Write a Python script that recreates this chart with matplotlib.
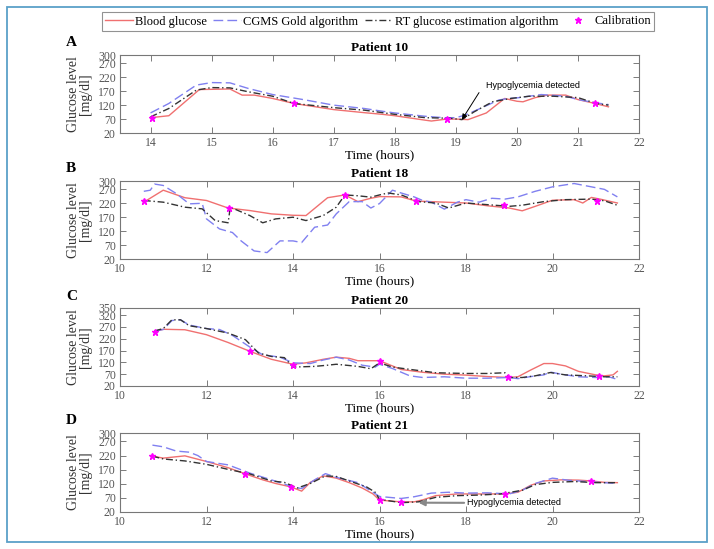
import matplotlib.pyplot as plt
from matplotlib.patches import Rectangle
from matplotlib.lines import Line2D

# Colours and fonts
RED = '#f07070'
BLUE = '#8080f0'
DARK = '#333333'
MAG = '#ff00ff'
SERIF = 'Liberation Serif'
SANS = 'Liberation Sans'

# ---------------- Patient 10 ----------------
p10_bg_t = [14.0, 14.3, 14.8, 15.3, 15.5, 15.7, 16.0, 16.35, 17.0, 17.5, 17.8, 18.0, 18.5, 18.6, 18.85, 19.0, 19.2, 19.5, 19.8, 20.0, 20.1, 20.3, 20.5, 20.8, 21.0, 21.28, 21.5]
p10_bg_v = [75, 82, 176, 178, 156, 156, 144, 126, 104, 93, 87, 82, 66, 63, 70, 70, 68, 92, 144, 134, 132, 147, 156, 156, 140, 126, 114]
p10_cg_t = [14.0, 14.3, 14.75, 15.0, 15.3, 15.6, 16.0, 16.5, 17.0, 17.5, 17.8, 18.0, 18.5, 18.8, 19.0, 19.15, 19.4, 19.7, 19.85, 20.0, 20.4, 20.8, 21.0, 21.3, 21.5]
p10_cg_v = [92, 126, 192, 201, 200, 180, 158, 140, 120, 108, 98, 92, 80, 75, 75, 84, 108, 138, 144, 146, 158, 152, 140, 128, 122]
p10_rt_t = [14.0, 14.3, 14.75, 15.0, 15.3, 15.6, 16.0, 16.35, 17.0, 17.5, 18.0, 18.5, 18.9, 19.1, 19.3, 19.6, 19.9, 20.2, 20.6, 21.0, 21.3, 21.5]
p10_rt_v = [78, 108, 174, 183, 182, 168, 152, 126, 111, 102, 87, 75, 73, 68, 96, 132, 144, 152, 152, 147, 126, 120]
p10_cal_t = [14.03, 16.35, 18.85, 21.28]
p10_cal_v = [75, 126, 70, 126]

# ---------------- Patient 18 ----------------
p18_bg_t = [10.55, 11.0, 11.5, 12.0, 12.5, 13.0, 13.5, 14.0, 14.3, 14.8, 15.2, 15.5, 15.8, 16.0, 16.5, 16.85, 17.5, 18.0, 18.5, 19.0, 19.3, 19.6, 20.0, 20.5, 20.7, 20.9, 21.1, 21.5]
p18_bg_v = [224, 267, 240, 230, 203, 194, 182, 177, 176, 240, 250, 226, 238, 244, 243, 228, 224, 221, 211, 203, 193, 209, 231, 233, 221, 241, 235, 221]
p18_cg_t = [10.55, 10.7, 10.8, 11.0, 11.3, 11.6, 11.9, 12.0, 12.3, 12.6, 12.8, 13.1, 13.4, 13.7, 14.0, 14.2, 14.5, 14.8, 15.0, 15.3, 15.6, 15.8, 16.0, 16.3, 16.5, 16.8, 17.0, 17.2, 17.5, 17.8, 18.0, 18.3, 18.6, 18.9, 19.2, 19.6, 20.0, 20.5, 20.8, 21.2, 21.5]
p18_cg_v = [263, 267, 289, 284, 255, 218, 220, 164, 128, 115, 85, 49, 43, 85, 85, 79, 134, 142, 182, 226, 226, 203, 219, 267, 257, 243, 230, 224, 199, 224, 233, 224, 238, 235, 243, 263, 279, 291, 282, 270, 243]
p18_rt_t = [10.55, 11.0, 11.5, 11.9, 12.2, 12.5, 12.55, 13.0, 13.3, 13.6, 14.0, 14.3, 14.7, 15.0, 15.2, 15.5, 15.8, 16.0, 16.2, 16.5, 16.9, 17.3, 17.6, 18.0, 18.5, 19.0, 19.3, 19.8, 20.3, 20.9, 21.2, 21.5]
p18_rt_v = [230, 224, 206, 200, 158, 150, 206, 176, 150, 164, 170, 158, 176, 206, 250, 247, 242, 250, 257, 250, 226, 221, 203, 221, 215, 209, 213, 226, 233, 235, 229, 213]
p18_cal_t = [10.55, 12.52, 15.2, 16.85, 18.87, 21.04]
p18_cal_v = [228, 203, 251, 229, 215, 229]

# ---------------- Patient 20 ----------------
p20_bg_t = [10.8, 11.0, 11.5, 12.0, 12.5, 13.0, 13.5, 14.0, 14.3, 14.7, 15.0, 15.3, 15.5, 15.8, 16.0, 16.5, 17.0, 17.5, 18.0, 18.5, 19.0, 19.2, 19.5, 19.8, 20.0, 20.3, 20.6, 21.0, 21.2, 21.4, 21.5]
p20_bg_v = [250, 260, 258, 237, 204, 167, 133, 112, 118, 133, 142, 137, 127, 127, 127, 90, 78, 70, 66, 60, 56, 59, 88, 115, 115, 105, 82, 67, 63, 67, 82]
p20_cg_t = [10.8, 11.0, 11.2, 11.4, 11.6, 12.0, 12.3, 12.6, 13.0, 13.3, 13.7, 14.0, 14.4, 14.7, 15.0, 15.3, 15.6, 15.9, 16.0, 16.3, 16.7, 17.0, 17.5, 18.0, 18.5, 19.0, 19.2, 19.5, 19.8, 19.95, 20.2, 20.6, 21.0, 21.3, 21.5]
p20_cg_v = [253, 259, 297, 300, 278, 263, 259, 234, 185, 152, 142, 118, 115, 130, 142, 130, 108, 100, 112, 94, 63, 56, 59, 53, 53, 56, 51, 60, 67, 79, 70, 59, 56, 59, 48]
p20_rt_t = [10.8, 11.0, 11.2, 11.4, 11.6, 12.0, 12.5, 12.9, 13.2, 13.5, 13.8, 14.0, 14.5, 14.8, 15.0, 15.5, 15.8, 16.0, 16.3, 16.8, 17.3, 18.0, 18.5, 18.9, 19.0, 19.3, 19.6, 19.95, 20.3, 20.8, 21.2, 21.5]
p20_rt_v = [253, 263, 300, 300, 275, 263, 244, 216, 160, 145, 140, 100, 103, 108, 112, 103, 93, 118, 100, 88, 76, 73, 73, 76, 56, 56, 63, 77, 67, 63, 59, 59]
p20_cal_t = [10.8, 13.0, 14.0, 16.0, 18.97, 21.08]
p20_cal_v = [250, 167, 108, 127, 57, 63]

# ---------------- Patient 21 ----------------
p21_bg_t = [10.75, 11.0, 11.5, 12.0, 12.5, 12.9, 13.3, 13.6, 13.95, 14.2, 14.4, 14.7, 15.0, 15.3, 15.6, 15.85, 16.0, 16.5, 16.8, 17.0, 17.3, 17.8, 18.5, 18.9, 19.2, 19.5, 19.8, 20.2, 20.6, 20.9, 21.2, 21.5]
p21_bg_v = [218, 211, 219, 199, 177, 155, 134, 121, 109, 94, 125, 148, 140, 124, 105, 84, 62, 56, 56, 63, 78, 84, 84, 84, 90, 115, 130, 134, 133, 130, 125, 124]
p21_cg_t = [10.75, 11.0, 11.3, 11.6, 11.8, 12.0, 12.5, 13.0, 13.5, 14.0, 14.2, 14.5, 14.75, 15.0, 15.5, 15.85, 16.0, 16.5, 16.8, 17.2, 17.6, 18.0, 18.5, 19.0, 19.3, 19.6, 20.0, 20.4, 20.8, 21.2, 21.5]
p21_cg_v = [257, 251, 236, 232, 220, 199, 187, 158, 134, 109, 103, 134, 156, 143, 124, 90, 75, 68, 74, 87, 90, 87, 88, 84, 97, 121, 140, 132, 128, 124, 121]
p21_rt_t = [10.75, 11.0, 11.5, 12.0, 12.5, 13.0, 13.5, 13.8, 14.1, 14.4, 14.75, 15.0, 15.3, 15.7, 15.9, 16.0, 16.5, 16.9, 17.3, 17.8, 18.3, 18.8, 19.3, 19.6, 20.0, 20.5, 21.0, 21.5]
p21_rt_v = [218, 208, 201, 189, 171, 155, 130, 125, 105, 121, 148, 146, 130, 109, 90, 65, 53, 56, 72, 78, 80, 84, 97, 117, 125, 128, 124, 124]
p21_cal_t = [10.75, 12.9, 13.95, 16.0, 16.5, 18.9, 20.9]
p21_cal_v = [218, 155, 109, 63, 56, 84, 130]

panels = [
    ('A', 'Patient 10', (13.5, 22), range(14, 23), (20, 300), [20, 70, 120, 170, 220, 270, 300],
     p10_bg_t, p10_bg_v, p10_cg_t, p10_cg_v, p10_rt_t, p10_rt_v, p10_cal_t, p10_cal_v),
    ('B', 'Patient 18', (10, 22), range(10, 23, 2), (20, 300), [20, 70, 120, 170, 220, 270, 300],
     p18_bg_t, p18_bg_v, p18_cg_t, p18_cg_v, p18_rt_t, p18_rt_v, p18_cal_t, p18_cal_v),
    ('C', 'Patient 20', (10, 22), range(10, 23, 2), (20, 350), [20, 70, 120, 170, 220, 270, 320, 350],
     p20_bg_t, p20_bg_v, p20_cg_t, p20_cg_v, p20_rt_t, p20_rt_v, p20_cal_t, p20_cal_v),
    ('D', 'Patient 21', (10, 22), range(10, 23, 2), (20, 300), [20, 70, 120, 170, 220, 270, 300],
     p21_bg_t, p21_bg_v, p21_cg_t, p21_cg_v, p21_rt_t, p21_rt_v, p21_cal_t, p21_cal_v),
]

fig = plt.figure(figsize=(7.14, 5.49), dpi=100)

# axes placement in pixels (top, bottom)
boxes = [(55, 133), (181, 259), (308, 386), (433, 512)]
W, H = 714.0, 549.0
left, right = 120, 639

axes = []
for (letter, title, xl, xt, yl, yt, bt, bv, ct, cv, rt, rv, kt, kv), (top, bot) in zip(panels, boxes):
    ax = fig.add_axes([left / W, 1 - bot / H, (right - left) / W, (bot - top) / H])
    ax.plot(bt, bv, color=RED, lw=1.0)
    ax.plot(ct, cv, color=BLUE, lw=1.0, dashes=(7, 3))
    ax.plot(rt, rv, color=DARK, lw=1.0, dashes=(5, 2, 1, 2))
    ax.plot(kt, kv, ls='none', marker='*', ms=4.5, color=MAG)
    ax.set_xlim(*xl)
    ax.set_ylim(*yl)
    ax.set_xticks(list(xt))
    ax.set_yticks(yt)
    ax.tick_params(direction='in', top=True, right=True, length=4, width=0.6,
                   labelsize=8.5, labelcolor='#555555', color='#666666', pad=3)
    for lab in ax.get_xticklabels() + ax.get_yticklabels():
        lab.set_family(SERIF)
    for s in ax.spines.values():
        s.set_color('#777777')
        s.set_linewidth(0.8)
    ax.set_title(title, fontsize=9.5, fontweight='bold', family=SERIF, pad=3)
    ax.set_xlabel('Time (hours)', fontsize=9.5, family=SERIF, labelpad=0)
    ax.set_ylabel('Glucose level\n[mg/dl]', fontsize=10, family=SERIF, color='#333333',
                  linespacing=0.95, labelpad=4)
    fig.text(66 / W, 1 - (top - 12) / H, letter, fontsize=11, fontweight='bold',
             family=SERIF, va='center', ha='left')
    axes.append(ax)

# annotations
axes[0].text(19.5, 192, 'Hypoglycemia detected', fontsize=6.5, family=SANS, ha='left', va='center')
axes[0].annotate('', xy=(19.1, 68), xytext=(19.38, 165),
                 arrowprops=dict(arrowstyle='-|>', color='black', lw=0.7,
                                 mutation_scale=8, shrinkA=0, shrinkB=0))
axes[3].annotate('Hypoglycemia detected', xy=(16.9, 53), xytext=(18.02, 52),
                 fontsize=6.5, family=SANS, ha='left', va='center',
                 arrowprops=dict(arrowstyle='-|>', color='#888888', lw=1.5,
                                 mutation_scale=9, shrinkA=0, shrinkB=0))

# legend on top
handles = [
    Line2D([], [], color=RED, lw=1.0),
    Line2D([], [], color=BLUE, lw=1.0, dashes=(7, 3)),
    Line2D([], [], color=DARK, lw=1.0, dashes=(5, 2, 1, 2)),
    Line2D([], [], ls='none', marker='*', ms=4.5, color=MAG),
]
labels = ['Blood glucose', 'CGMS Gold algorithm', 'RT glucose estimation algorithm', 'Calibration']
leg = fig.legend(handles, labels, loc='center', bbox_to_anchor=(378 / W, 1 - 21.5 / H), ncol=4,
                 frameon=True, fancybox=False, edgecolor='#777777', prop={'family': SERIF, 'size': 9},
                 handlelength=2.2, handletextpad=0.2, columnspacing=0.5, borderpad=0.25,
                 borderaxespad=0)
leg.get_frame().set_linewidth(0.8)

# outer frame
fig.patches.append(Rectangle((7 / W, 7 / H), 700 / W, 535 / H, transform=fig.transFigure,
                             fill=False, edgecolor='#5aa0c8', lw=1.3))

fig.savefig('out.png', dpi=100)
